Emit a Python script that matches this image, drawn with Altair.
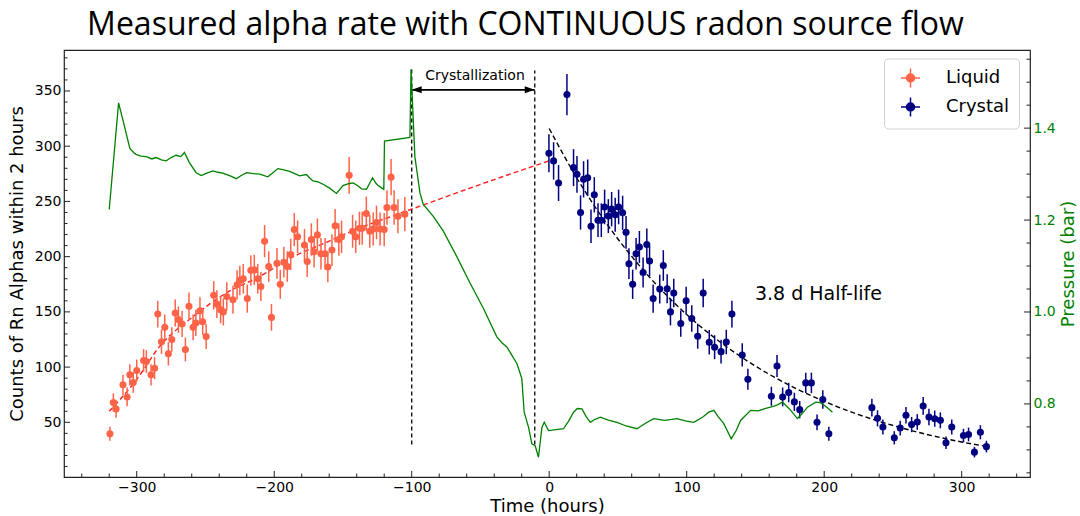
import altair as alt
import numpy as np
import pandas as pd

# ---------------- data ----------------
liquid_t = [-319.5, -317, -315, -310, -307, -305, -302.5, -300, -295, -293, -289.6, -287, -284.7, -282, -279.6,
            -277, -274.5, -272, -269.7, -267, -264.6, -262, -259, -257, -254, -252, -249.5, -244, -241.7, -239,
            -237, -234.5, -230, -227, -225, -222.5, -219.6, -217, -214.5, -212, -209.7, -207, -204, -202, -198,
            -195.6, -193, -190.5, -188, -185.4, -183, -178, -176, -173, -171, -168.6, -166, -163, -161, -158,
            -155.7, -153, -151, -145.5, -143, -140.7, -138, -136, -133, -130.5, -128, -125.6, -123, -120, -118,
            -115, -112.8, -110, -105]
liquid_c = [39.7, 68, 62, 84, 73, 93, 86, 97, 106, 105, 93, 99, 148, 123, 136,
            112, 125, 149, 143, 139, 116, 155, 136, 140, 151, 141, 127.6, 165, 157, 152,
            150, 164, 161, 174.5, 178.5, 180, 162, 187.6, 188, 180, 173, 214, 191, 145, 194,
            175, 195, 191, 202, 224.5, 218, 210.6, 195.5, 215.5, 204.5, 219.7, 202.7, 202.7, 190.6, 206,
            228, 215.5, 218, 273.6, 223, 218, 225.7, 225.7, 239, 223, 225, 231, 225, 224.5, 244.5,
            272, 244.5, 236.6, 238.5]

crystal_t = [-0.2, 3.2, 6.8, 12.9, 17.7, 20.2, 22.8, 25, 28, 30.4, 32.8, 35.5, 37.9, 40.3, 43,
             45.4, 48, 50.5, 53.4, 55.9, 58, 60.7, 63.2, 65.6, 68.3, 71, 73, 75.6, 80.4, 83,
             85.8, 88.2, 90.6, 95.7, 99.6, 103.7, 108, 112, 116.4, 120.3, 125, 128.8, 132.9, 140.4, 144.5,
             161.6, 165.7, 169.8, 174.2, 178.3, 182.2, 186.6, 190.7, 194.8, 199, 203.4, 234.7, 238.8, 242.7, 251,
             255.3, 259.5, 263.6, 267.7, 272, 276.2, 280.4, 284.5, 288.6, 292.8, 301.3, 305, 309.3, 313.6, 318]
crystal_c = [293.6, 286.7, 266.7, 346.7, 280.6, 274.5, 240, 270, 271.5, 227.5, 256, 233, 233, 245, 236.7,
             243, 238, 245, 239.7, 222, 193.6, 175, 202.7, 208.8, 185.7, 211, 196, 162, 170.6, 192,
             171, 150, 167, 139.4, 160, 144, 128, 167, 122.5, 118, 114, 122.7, 148, 111, 89,
             73.6, 101, 73, 77, 68.5, 61.5, 85.7, 85.7, 50, 70.6, 39.7, 63.3, 53.6, 45.7, 36,
             44.8, 56.4, 48, 50.3, 64.8, 54.8, 53.3, 51.8, 31.5, 45.7, 38, 39, 23, 41, 28]

# fitted curves
liqfit_t = [-320, -300.5, -283.5, -259, -235, -210.6, -186, -162, -137.8, -113.5, -94, -60, -0.5]
liqfit_c = [60, 88, 118.5, 145.7, 167, 182, 200, 213, 226, 237, 245.7, 261, 286.6]

decay_t = [0, 20, 40, 60, 80, 100, 120, 140, 160, 180, 200, 220, 240, 260, 280, 300, 318]
decay_c = [316, 271.4, 233, 200.2, 171.9, 147.6, 126.8, 108.9, 93.5, 80.3, 69, 59.2, 50.9, 43.7, 37.5, 32.2, 28.2]

# pressure trace (right axis)
press_t = [-320, -313.2, -309, -305, -302, -300.5, -297, -293, -289, -286, -282, -278.6, -275, -271.4, -268,
           -265.3, -261.7, -256.8, -253, -249, -244.7, -241, -237.4, -232, -227.6, -224, -220, -215, -210.6,
           -204.6, -201, -197.3, -193, -188.8, -185, -181.5, -176.6, -174, -171.8, -168, -164.5, -160, -154.7,
           -150, -146, -142.6, -139, -136.5, -132.9, -128.5, -126, -124.4, -122, -120.3, -119.8, -101.3,
           -100.5, -97.7, -94, -91.6, -84.3, -77, -67.3, -57.6, -47.9, -38.1, -34, -30.8, -27, -23.5, -19.9,
           -18.2, -15, -12.6, -10.2, -7.8, -5.3, -3.6, -0.5, 5, 10.4, 14, 17.7, 20.5, 23.8, 27, 29.9, 33, 37.2,
           43, 49.3, 56, 63.9, 70, 76, 84, 93, 99, 105.2, 112, 116, 119.8, 123, 127, 132.4, 136, 139.2, 146.5,
           152, 156.2, 163.5, 166, 169.6, 172, 175.7, 180.5, 184, 187.8, 193.9, 197, 200, 203, 206]
press_p = [1.223, 1.455, 1.405, 1.356, 1.346, 1.343, 1.339, 1.338, 1.333, 1.336, 1.331, 1.329, 1.336, 1.341, 1.338,
           1.347, 1.325, 1.303, 1.297, 1.302, 1.307, 1.304, 1.302, 1.296, 1.29, 1.297, 1.303, 1.301, 1.3,
           1.294, 1.303, 1.312, 1.309, 1.306, 1.301, 1.296, 1.299, 1.291, 1.285, 1.283, 1.278, 1.27, 1.258,
           1.275, 1.279, 1.281, 1.274, 1.268, 1.267, 1.292, 1.28, 1.275, 1.27, 1.267, 1.372, 1.38,
           1.528, 1.338, 1.259, 1.234, 1.208, 1.176, 1.121, 1.063, 1.008, 0.946, 0.932, 0.924, 0.905, 0.888, 0.855,
           0.782, 0.749, 0.713, 0.709, 0.684, 0.749, 0.76, 0.742, 0.744, 0.746, 0.762, 0.782, 0.79, 0.789, 0.772,
           0.76, 0.766, 0.771, 0.765, 0.76, 0.752, 0.746, 0.758, 0.768, 0.764, 0.768, 0.763, 0.76, 0.772, 0.782,
           0.786, 0.772, 0.757, 0.724, 0.742, 0.764, 0.786, 0.785, 0.789, 0.795, 0.798, 0.804, 0.797, 0.786, 0.768,
           0.779, 0.793, 0.804, 0.803, 0.797, 0.79, 0.782]

# annotations
vline_t = [-100, -10.5]
vline_lo = [30, 30]
vline_hi = [370, 368.5]
arrow_t1 = [-100]
arrow_t2 = [-10.5]
arrow_c = [351]
head_t = [-100, -10.5]
head_c = [351, 351]
head_dir = ["left", "right"]
label_crys = ["Crystallization"]
label_crys_t = [-54]
label_crys_c = [364]
label_half = ["3.8 d Half-life"]
label_half_t = [149.6]
label_half_c = [166]

# tick positions
x_major = [-300, -200, -100, 0, 100, 200, 300]
x_minor = [-340, -320, -280, -260, -240, -220, -180, -160, -140, -120, -80, -60, -40, -20,
           20, 40, 60, 80, 120, 140, 160, 180, 220, 240, 260, 280, 320, 340]
y_major = [50, 100, 150, 200, 250, 300, 350]
y_minor = [10, 20, 30, 40, 60, 70, 80, 90, 110, 120, 130, 140, 160, 170, 180, 190, 210, 220, 230, 240,
           260, 270, 280, 290, 310, 320, 330, 340, 360, 370, 380]
p_major = [0.8, 1.0, 1.2, 1.4]
p_minor = [0.65, 0.7, 0.75, 0.85, 0.9, 0.95, 1.05, 1.1, 1.15, 1.25, 1.3, 1.35, 1.45, 1.5, 1.55]

# ---------------- tables ----------------
pts = pd.concat([
    pd.DataFrame({"t": liquid_t, "c": liquid_c, "series": "Liquid"}),
    pd.DataFrame({"t": crystal_t, "c": crystal_c, "series": "Crystal"}),
], ignore_index=True)
pts["lo"] = pts["c"] - np.sqrt(pts["c"])
pts["hi"] = pts["c"] + np.sqrt(pts["c"])

liqfit = pd.DataFrame({"t": liqfit_t, "c": liqfit_c})
decay = pd.DataFrame({"t": decay_t, "c": decay_c})
press = pd.DataFrame({"t": press_t, "p": press_p})
vlines = pd.DataFrame({"t": vline_t, "lo": vline_lo, "hi": vline_hi})
arrow = pd.DataFrame({"t1": arrow_t1, "t2": arrow_t2, "c": arrow_c})
heads = pd.DataFrame({"t": head_t, "c": head_c, "dir": head_dir})
txt1 = pd.DataFrame({"t": label_crys_t, "c": label_crys_c, "s": label_crys})
txt2 = pd.DataFrame({"t": label_half_t, "c": label_half_c, "s": label_half})

# ---------------- layout / styling ----------------
W, H = 966, 427
FONT = "DejaVu Sans"
GREEN = "#008000"
XS = alt.Scale(domain=[-352.9, 349.7], nice=False, zero=False)
YS = alt.Scale(domain=[0.5, 387.1], nice=False, zero=False)
PS = alt.Scale(domain=[0.641, 1.570], nice=False, zero=False)

X_AXIS = alt.Axis(title="Time (hours)", values=x_major, format="d", labelFont=FONT, labelFontSize=14,
                  labelColor="black", titleFont=FONT, titleFontSize=18, titleFontWeight="normal",
                  titleColor="black", domain=False, ticks=False, grid=False, labelPadding=3, titlePadding=3)
Y_AXIS = alt.Axis(title="Counts of Rn Alphas within 2 hours", values=y_major, format="d", labelFont=FONT,
                  labelFontSize=14, labelColor="black", titleFont=FONT, titleFontSize=18,
                  titleFontWeight="normal", titleColor="black", domain=False, ticks=False, grid=False,
                  labelPadding=3, titlePadding=8)
P_AXIS = alt.Axis(title="Pressure (bar)", orient="right", values=p_major, format=".1f", labelFont=FONT,
                  labelFontSize=14, labelColor=GREEN, titleFont=FONT, titleFontSize=18,
                  titleFontWeight="normal", titleColor=GREEN, titleAngle=270, titleBaseline="top",
                  domain=False, ticks=False, grid=False, labelPadding=3, titlePadding=4)


def X(f):
    return alt.X(f, type="quantitative", scale=XS, axis=X_AXIS)


def Y(f):
    return alt.Y(f, type="quantitative", scale=YS, axis=Y_AXIS)


LEG_PATH = "M-1,0L1,0M0,-1L0,1M0.42,0A0.42,0.42,0,1,0,-0.42,0A0.42,0.42,0,1,0,0.42,0Z"
SER_SCALE = alt.Scale(domain=["Liquid", "Crystal"], range=["#ff6347", "#000080"])
LEG = alt.Legend(
    title=None, orient="none", legendX=820, legendY=8.5, symbolType=LEG_PATH, symbolSize=361,
    symbolStrokeWidth=1.5, symbolOffset=7, labelFont=FONT, labelFontSize=18, labelOffset=25,
    padding=9, rowPadding=4, strokeColor="#d0d0d0", fillColor="white", cornerRadius=4,
)

base_pts = alt.Chart(pts)
err = base_pts.mark_rule(strokeWidth=1.5).encode(
    x=X("t"), y=Y("lo"), y2="hi", stroke=alt.Stroke("series:N", scale=SER_SCALE, legend=LEG))
dots = base_pts.mark_circle(size=50, opacity=1).encode(
    x=X("t"), y=Y("c"), fill=alt.Fill("series:N", scale=SER_SCALE, legend=LEG))

liq_line = alt.Chart(liqfit).mark_line(color="#ff2020", strokeWidth=1.4, strokeDash=[5, 3],
                                       interpolate="monotone").encode(x=X("t"), y=Y("c"))
dec_line = alt.Chart(decay).mark_line(color="black", strokeWidth=1.4, strokeDash=[5, 3],
                                      interpolate="monotone").encode(x=X("t"), y=Y("c"))

vl = alt.Chart(vlines).mark_rule(color="black", strokeWidth=1.3, strokeDash=[4, 3]).encode(
    x=X("t"), y=Y("lo"), y2="hi")
arr = alt.Chart(arrow).mark_rule(color="black", strokeWidth=1.8).encode(x=X("t1"), x2="t2", y=Y("c"))
hd = alt.Chart(heads).mark_point(filled=True, opacity=1, size=100, color="black").encode(
    x=X("t"), y=Y("c"),
    shape=alt.Shape("dir:N", scale=alt.Scale(domain=["left", "right"],
                                              range=["M0,0L2,-0.7L2,0.7Z", "M0,0L-2,-0.7L-2,0.7Z"]),
                    legend=None))
t1 = alt.Chart(txt1).mark_text(font=FONT, fontSize=14, color="black", align="center",
                               baseline="middle").encode(x=X("t"), y=Y("c"), text="s:N")
t2 = alt.Chart(txt2).mark_text(font=FONT, fontSize=19, color="black", align="left",
                               baseline="middle").encode(x=X("t"), y=Y("c"), text="s:N")

xt_major = alt.Chart(pd.DataFrame({"v": x_major})).mark_rule(color="#222", strokeWidth=1).encode(
    x=X("v"), y=alt.value(H), y2=alt.value(H - 6))
xt_minor = alt.Chart(pd.DataFrame({"v": x_minor})).mark_rule(color="#222", strokeWidth=1).encode(
    x=X("v"), y=alt.value(H), y2=alt.value(H - 3.5))
yt_major = alt.Chart(pd.DataFrame({"v": y_major})).mark_rule(color="#222", strokeWidth=1).encode(
    y=Y("v"), x=alt.value(0), x2=alt.value(6))
yt_minor = alt.Chart(pd.DataFrame({"v": y_minor})).mark_rule(color="#222", strokeWidth=1).encode(
    y=Y("v"), x=alt.value(0), x2=alt.value(3.5))

left = alt.layer(liq_line, dec_line, err, dots, vl, arr, hd, t1, t2,
                 xt_major, xt_minor, yt_major, yt_minor)


def P(f):
    return alt.Y(f, type="quantitative", scale=PS, axis=P_AXIS)


p_line = alt.Chart(press).mark_line(color=GREEN, strokeWidth=1.3).encode(x=X("t"), y=P("p"))
pt_major = alt.Chart(pd.DataFrame({"v": p_major})).mark_rule(color="#222", strokeWidth=1).encode(
    y=P("v"), x=alt.value(W), x2=alt.value(W - 6))
pt_minor = alt.Chart(pd.DataFrame({"v": p_minor})).mark_rule(color="#222", strokeWidth=1).encode(
    y=P("v"), x=alt.value(W), x2=alt.value(W - 3.5))
right = alt.layer(p_line, pt_major, pt_minor)

chart = alt.layer(left, right).resolve_scale(y="independent").properties(
    width=W, height=H,
    title=alt.TitleParams(text="Measured alpha rate with CONTINUOUS radon source flow", font="Open Sans",
                          fontSize=32, fontWeight="normal", color="black", anchor="middle", dx=-21.5,
                          offset=8),
    padding={"left": 64, "top": 50, "right": 50, "bottom": 39},
    autosize=alt.AutoSizeParams(type="none"),
).configure_view(stroke="#222", strokeWidth=1.2)

chart.save("out.html", embed_options={"renderer": "svg", "actions": False})
